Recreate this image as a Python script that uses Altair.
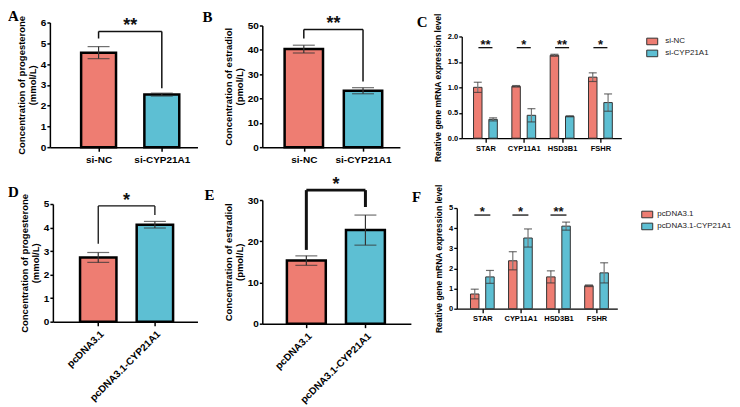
import json
import altair as alt
import pandas as pd

SALMON = "#EE7D72"
TEAL = "#5DBFD3"
SANS = "Liberation Sans"
SERIF = "Liberation Serif"
RECT = "M-1,-0.6H1V0.6H-1Z"
SEP = 0.2  # half distance between paired bars (group units)

# ---------------- data ----------------
a_groups = ["si-NC", "si-CYP21A1"]
a_means = [4.55, 2.53]
a_errs = [0.29, 0.07]
a_bracket = [5.57, 5.23, 2.83]   # top, left end, right end
a_star = "**"

b_groups = ["si-NC", "si-CYP21A1"]
b_means = [40.3, 23.2]
b_errs = [1.6, 1.25]
b_bracket = [48.4, 44.7, 27.0]
b_star = "**"

c_genes = ["STAR", "CYP11A1", "HSD3B1", "FSHR"]
c_series = ["si-NC", "si-CYP21A1"]
c_ctrl = [1.00, 1.02, 1.63, 1.20]
c_ctrl_err = [0.10, 0.015, 0.02, 0.085]
c_treat = [0.37, 0.45, 0.43, 0.70]
c_treat_err = [0.03, 0.13, 0.01, 0.17]
c_stars = ["**", "*", "**", "*"]
c_sig_y = 1.78

d_groups = ["pcDNA3.1", "pcDNA3.1-CYP21A1"]
d_means = [2.73, 4.12]
d_errs = [0.21, 0.14]
d_bracket = [4.92, 3.31, 4.53]
d_star = "*"

e_groups = ["pcDNA3.1", "pcDNA3.1-CYP21A1"]
e_means = [15.3, 22.7]
e_errs = [1.15, 3.65]
e_bracket = [32.4, 17.9, 28.3]
e_star = "*"

f_genes = ["STAR", "CYP11A1", "HSD3B1", "FSHR"]
f_series = ["pcDNA3.1", "pcDNA3.1-CYP21A1"]
f_ctrl = [0.73, 2.38, 1.58, 1.14]
f_ctrl_err = [0.24, 0.45, 0.30, 0.04]
f_treat = [1.58, 3.51, 4.10, 1.78]
f_treat_err = [0.32, 0.45, 0.20, 0.50]
f_stars = ["*", "*", "**", ""]
f_sig_y = 4.65

TITLE_P = ["Concentration of progesterone", "(mmol/L)"]
TITLE_E = ["Concentration of estradiol", "(pmol/L)"]
TITLE_G = "Reative  gene mRNA expression level"


def letter_layer(letter, xy):
    return alt.Chart(pd.DataFrame({"t": [letter]})).mark_text(
        font=SERIF, fontSize=15, fontWeight="bold", align="left",
        baseline="alphabetic", color="black"
    ).encode(x=alt.value(xy[0]), y=alt.value(xy[1]), text="t:N")


def simple_panel(groups, means, errs, bracket, star, ytitle, letter, width, height,
                 xdom, xrange, ydom, yrange, yvals, bar_size, axis_offset=0,
                 label_angle=0, bracket_w=1.5, letter_xy=(-42, -5)):
    n = len(groups)
    idx = list(range(n))
    lo = [m - e for m, e in zip(means, errs)]
    hi = [m + e for m, e in zip(means, errs)]
    bars_df = pd.DataFrame({"x": idx, "y": means, "fillc": [SALMON, TEAL][:n]})
    err_df = pd.DataFrame({"x": idx, "y": lo, "y2": hi})
    cap_df = pd.DataFrame({"x": idx + idx, "y": lo + hi})
    top, left_end, right_end = bracket
    br_df = pd.DataFrame({"x": [0, 0, n - 1], "x2": [n - 1, 0, n - 1],
                          "y": [top] * 3, "y2": [top, left_end, right_end]})
    star_df = pd.DataFrame({"x": [(n - 1) / 2], "y": [top], "t": [star]})

    xs = alt.Scale(domain=xdom, range=xrange, nice=False, zero=False)
    ys = alt.Scale(domain=ydom, range=yrange, nice=False)
    xaxis = alt.Axis(values=idx, labelExpr=json.dumps(groups) + "[datum.value]",
                     title=None, grid=False, labelAngle=label_angle, labelFontSize=10,
                     labelFontWeight="bold", labelPadding=3, tickSize=4, tickWidth=1.5,
                     domainWidth=1.5, labelFlush=False, labelOverlap=False)
    yaxis = alt.Axis(values=yvals, title=ytitle, grid=False, offset=axis_offset,
                     labelFontSize=10, labelFontWeight="bold", labelPadding=1,
                     tickSize=3, tickWidth=1.5, domainWidth=1.5, titleFontSize=9.5,
                     titleFontWeight="bold", titleLineHeight=11, titlePadding=3)
    X = alt.X("x:Q", scale=xs, axis=xaxis)
    Y = alt.Y("y:Q", scale=ys, axis=yaxis)

    bars = alt.Chart(bars_df).mark_bar(size=bar_size, stroke="black", strokeWidth=2.5,
                                       orient="vertical").encode(
        x=X, y=Y, fill=alt.Fill("fillc:N", scale=None))
    err = alt.Chart(err_df).mark_rule(color="#333", strokeWidth=1.2).encode(x=X, y=Y, y2="y2:Q")
    caps = alt.Chart(cap_df).mark_tick(orient="horizontal", size=22, thickness=1.2,
                                       color="#333").encode(x=X, y=Y)
    br = alt.Chart(br_df).mark_rule(color="#111", strokeWidth=bracket_w).encode(
        x=X, x2="x2:Q", y=Y, y2="y2:Q")
    st = alt.Chart(star_df).mark_text(font=SANS, fontSize=18, fontWeight="bold",
                                      baseline="alphabetic", color="#111").encode(
        x=X, y=Y, text="t:N")
    return alt.layer(bars, err, caps, br, st, letter_layer(letter, letter_xy)).properties(
        width=width, height=height)


def grouped_panel(genes, series, ctrl, ctrl_err, treat, treat_err, stars, sig_y, ytitle,
                  letter, width, height, xdom, xrange, ydom, yrange, yvals, yfmt,
                  legend_xy, label_offset, axis_offset=0, half_line=0.19, letter_xy=(-40, 5)):
    rows = []
    for g in range(len(genes)):
        pairs = [(ctrl[g], ctrl_err[g]), (treat[g], treat_err[g])]
        for s, (m, e) in enumerate(pairs):
            rows.append({"x": g + (2 * s - 1) * SEP, "y": m, "lo": m - e, "hi": m + e,
                         "series": series[s]})
    df = pd.DataFrame(rows)
    err_df = pd.DataFrame({"x": df["x"], "y": df["lo"], "y2": df["hi"]})
    cap_df = pd.DataFrame({"x": list(df["x"]) * 2, "y": list(df["lo"]) + list(df["hi"])})
    sig = [(g, s) for g, s in enumerate(stars) if s]
    k = len(sig)
    sig_df = pd.DataFrame({"x": [g - half_line for g, _ in sig],
                           "x2": [g + half_line for g, _ in sig],
                           "y": [sig_y] * k, "y2": [sig_y] * k})
    star_df = pd.DataFrame({"x": [g for g, _ in sig], "y": [sig_y] * k,
                            "t": [s for _, s in sig]})

    xs = alt.Scale(domain=xdom, range=xrange, nice=False, zero=False)
    ys = alt.Scale(domain=ydom, range=yrange, nice=False)
    xaxis = alt.Axis(values=list(range(len(genes))),
                     labelExpr=json.dumps(genes) + "[datum.value]", title=None, grid=False,
                     labelAngle=0, labelFontSize=7.5, labelFontWeight="bold", labelPadding=2,
                     tickSize=4, tickWidth=1.3, domainWidth=1.3, labelFlush=False,
                     labelOverlap=False)
    yaxis = alt.Axis(values=yvals, format=yfmt, title=ytitle, grid=False, offset=axis_offset,
                     labelFontSize=7.5, labelFontWeight="bold", labelPadding=1, tickSize=3,
                     tickWidth=1.3, domainWidth=1.3, titleFontSize=8.5, titleFontWeight="bold",
                     titlePadding=5)
    X = alt.X("x:Q", scale=xs, axis=xaxis)
    Y = alt.Y("y:Q", scale=ys, axis=yaxis)

    legend = alt.Legend(title=None, orient="none", legendX=legend_xy[0], legendY=legend_xy[1],
                        symbolType=RECT, symbolSize=121, symbolStrokeColor="#333",
                        symbolStrokeWidth=1, symbolOpacity=1, labelFont=SANS,
                        labelFontSize=8, labelColor="#222", labelOffset=label_offset,
                        rowPadding=0, padding=0)
    bars = alt.Chart(df).mark_bar(size=8.5, stroke="#333", strokeWidth=1,
                                  orient="vertical").encode(
        x=X, y=Y,
        fill=alt.Fill("series:N", scale=alt.Scale(domain=series, range=[SALMON, TEAL]),
                      legend=legend))
    err = alt.Chart(err_df).mark_rule(color="#777", strokeWidth=1.2).encode(x=X, y=Y, y2="y2:Q")
    caps = alt.Chart(cap_df).mark_tick(orient="horizontal", size=8, thickness=1.2,
                                       color="#333").encode(x=X, y=Y)
    sl = alt.Chart(sig_df).mark_rule(color="#111", strokeWidth=1.3).encode(
        x=X, x2="x2:Q", y=Y, y2="y2:Q")
    st = alt.Chart(star_df).mark_text(font=SANS, fontSize=13, fontWeight="bold",
                                      baseline="alphabetic", dy=1, color="#111").encode(
        x=X, y=Y, text="t:N")
    return alt.layer(bars, err, caps, sl, st, letter_layer(letter, letter_xy)).properties(
        width=width, height=height)


A = simple_panel(a_groups, a_means, a_errs, a_bracket, a_star, TITLE_P, "A",
                 width=193, height=125, xdom=[-0.691, 1.485], xrange=[0, 148],
                 ydom=[0, 6], yrange=[125, 0], yvals=list(range(7)), bar_size=35,
                 letter_xy=(-42, -2))
B = simple_panel(b_groups, b_means, b_errs, b_bracket, b_star, TITLE_E, "B",
                 width=175, height=125, xdom=[-0.617, 1.539], xrange=[0, 138],
                 ydom=[0, 50], yrange=[125, 3], yvals=[0, 10, 20, 30, 40, 50], bar_size=38.5,
                 letter_xy=(-60, -1))
C = grouped_panel(c_genes, c_series, c_ctrl, c_ctrl_err, c_treat, c_treat_err, c_stars,
                  c_sig_y, TITLE_G, "C", width=165, height=116, xdom=[-0.488, 3.415],
                  xrange=[5, 165], ydom=[0, 2], yrange=[116, 14],
                  yvals=[0, 0.5, 1.0, 1.5, 2.0], yfmt=".1f", legend_xy=(190, 13),
                  label_offset=7, axis_offset=-5, half_line=0.183, letter_xy=(-40, 5))
D = simple_panel(d_groups, d_means, d_errs, d_bracket, d_star, TITLE_P, "D",
                 width=193, height=122, xdom=[-0.713, 1.664], xrange=[3, 148],
                 ydom=[0, 5], yrange=[122, 4], yvals=list(range(6)), bar_size=36.5,
                 axis_offset=-3, label_angle=315, bracket_w=1.3, letter_xy=(-42, -3))
E = simple_panel(e_groups, e_means, e_errs, e_bracket, e_star, TITLE_E, "E",
                 width=175, height=124, xdom=[-0.661, 1.685], xrange=[0, 149],
                 ydom=[0, 30], yrange=[124, 0], yvals=[0, 10, 20, 30], bar_size=39,
                 label_angle=315, bracket_w=3, letter_xy=(-58, 0))
F = grouped_panel(f_genes, f_series, f_ctrl, f_ctrl_err, f_treat, f_treat_err, f_stars,
                  f_sig_y, TITLE_G, "F", width=161, height=109, xdom=[-0.541, 3.415],
                  xrange=[0, 161], ydom=[0, 5], yrange=[109, 8], yvals=list(range(6)),
                  yfmt="d", legend_xy=(185, 8.5), label_offset=4, half_line=0.21,
                  letter_xy=(-45, 2))

chart = alt.concat(
    A, B, C, D, E, F, columns=3, spacing={"row": 53, "column": 20}, bounds="flush"
).resolve_scale(
    fill="independent", x="independent", y="independent"
).resolve_legend(
    fill="independent"
).properties(
    padding=0
).configure_view(
    stroke=None
).configure_axis(
    domainColor="black", tickColor="black", labelColor="black", titleColor="black",
    labelFont=SANS, titleFont=SANS
)

chart.save("out.html", embed_options={"renderer": "svg", "actions": False})
